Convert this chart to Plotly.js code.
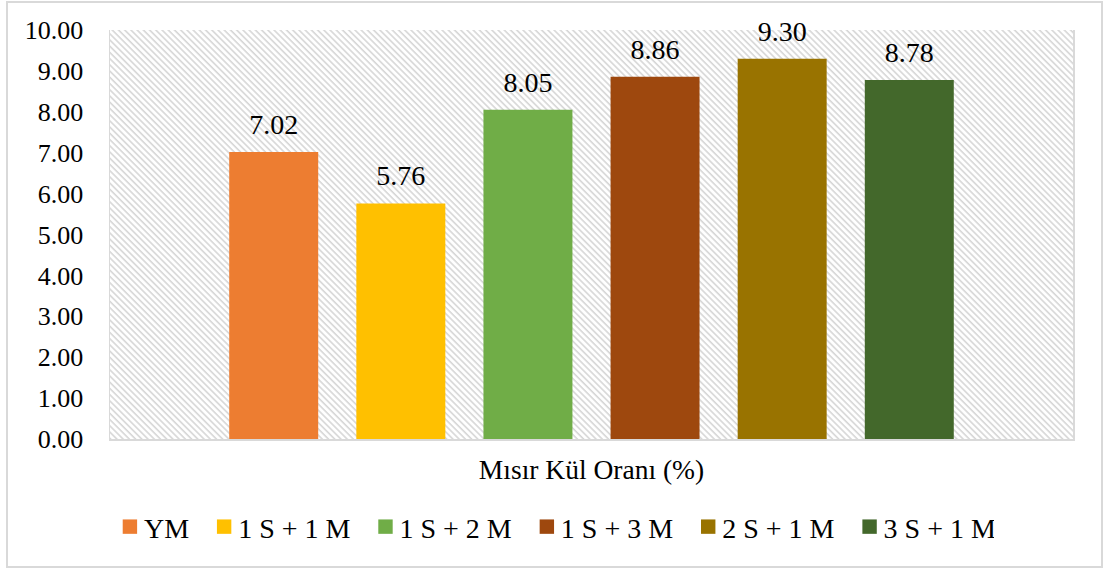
<!DOCTYPE html>
<html><head><meta charset="utf-8">
<script src="https://cdn.plot.ly/plotly-3.0.1.min.js"></script>
<style>
html,body{margin:0;padding:0;background:#fff;}
#wrap{position:relative;width:1103px;height:569px;}
#chart{width:1103px;height:569px;}
#frame{position:absolute;left:6px;top:1px;width:1093px;height:563px;border:2px solid #d9d9d9;pointer-events:none;}
</style></head>
<body>
<div id="wrap"><div id="chart"></div><div id="frame"></div></div>
<script>
const category = ['Mısır Kül Oranı (%)'];
const seriesNames = ['YM', '1 S + 1 M', '1 S + 2 M', '1 S + 3 M', '2 S + 1 M', '3 S + 1 M'];
const seriesValues = [7.02, 5.76, 8.05, 8.86, 9.30, 8.78];
const seriesColors = ['#ED7D31', '#FFC000', '#70AD47', '#9E480E', '#997300', '#43682B'];
const xTitle = 'Mısır Kül Oranı (%)';

const FF = 'Liberation Serif, Times New Roman, DejaVu Serif, serif';
const f = (s) => ({family: FF, size: s, color: '#000'});

const traces = seriesNames.map((n, i) => ({
  type: 'bar', name: n, x: category, y: [seriesValues[i]],
  marker: {color: seriesColors[i]},
  texttemplate: '%{y:.2f}', textposition: 'outside',
  textfont: f(28), cliponaxis: false,
  hoverinfo: 'skip'
}));

const layout = {
  width: 1103, height: 569,
  margin: {l: 110, r: 30, t: 30, b: 130},
  paper_bgcolor: 'rgba(0,0,0,0)', plot_bgcolor: '#fff',
  barmode: 'group', bargap: 0.208, bargroupgap: 0.3,
  font: f(26),
  showlegend: true,
  legend: {orientation: 'h', x: 0.462, xanchor: 'center', y: -0.215, yanchor: 'middle',
           font: f(28), itemwidth: 30, tracegroupgap: 0},
  xaxis: {showticklabels: false, ticks: '', showline: true, linecolor: '#d9d9d9', linewidth: 1.5,
          title: {text: xTitle, font: f(27.5), standoff: 20}},
  yaxis: {range: [0, 10], dtick: 1, tickformat: '.2f', showgrid: false, zeroline: false,
          showline: true, mirror: true, linecolor: '#d9d9d9', linewidth: 1.5,
          ticks: 'outside', ticklen: 20, tickcolor: 'rgba(0,0,0,0)',
          tickfont: f(26)}
};

Plotly.newPlot('chart', traces, layout, {displayModeBar: false, staticPlot: true}).then(gd => {
  const svg = gd.querySelector('svg.main-svg');
  const ns = 'http://www.w3.org/2000/svg';
  let defs = svg.querySelector('defs');
  const pat = document.createElementNS(ns, 'pattern');
  pat.setAttribute('id', 'hatchbg');
  pat.setAttribute('patternUnits', 'userSpaceOnUse');
  pat.setAttribute('width', '4.4');
  pat.setAttribute('height', '4.4');
  pat.setAttribute('patternTransform', 'rotate(-45)');
  const bgr = document.createElementNS(ns, 'rect');
  bgr.setAttribute('width', '4.4'); bgr.setAttribute('height', '4.4'); bgr.setAttribute('fill', '#fff');
  const ln = document.createElementNS(ns, 'line');
  ln.setAttribute('x1', '1'); ln.setAttribute('y1', '0'); ln.setAttribute('x2', '1'); ln.setAttribute('y2', '4.4');
  ln.setAttribute('stroke', '#d6d6d6'); ln.setAttribute('stroke-width', '1.6');
  pat.appendChild(bgr); pat.appendChild(ln);
  defs.appendChild(pat);
  const bg = svg.querySelector('.bglayer rect.bg');
  if (bg) bg.style.fill = 'url(#hatchbg)';
  // lift the value labels a little above the bars, as in the reference
  svg.querySelectorAll('text.bartext').forEach(t => {
    const tr = t.getAttribute('transform') || '';
    t.setAttribute('transform', 'translate(0,-9) ' + tr);
  });
  // larger legend squares, closer to their labels
  gd.querySelectorAll('.legend .legendpoints path').forEach(p => {
    const tr = p.getAttribute('transform') || '';
    p.setAttribute('transform', 'translate(6,0) ' + tr + ' scale(1.2)');
  });
  // slightly wider spacing between legend entries
  gd.querySelectorAll('.legend g.traces').forEach((g, i) => {
    const tr = g.getAttribute('transform') || '';
    g.setAttribute('transform', 'translate(' + (4 * i - 12) + ',0) ' + tr);
  });
});
</script>
</body></html>
